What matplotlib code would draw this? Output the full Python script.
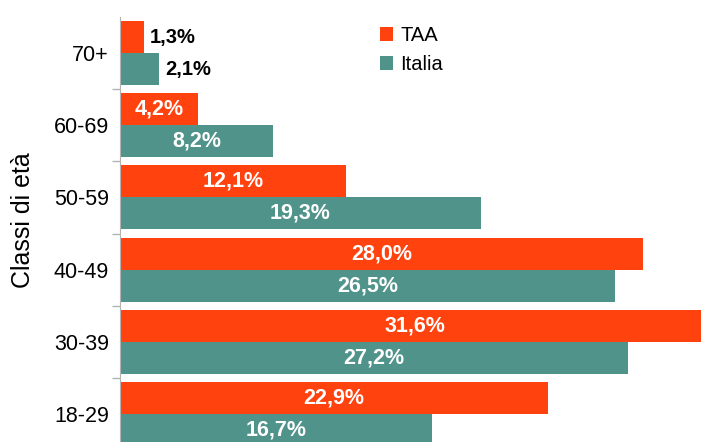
import numpy as np
import matplotlib
matplotlib.use('Agg')
import matplotlib.pyplot as plt

plt.rcParams['font.family'] = ['Liberation Sans', 'DejaVu Sans']

# dati
classi = ['18-29', '30-39', '40-49', '50-59', '60-69', '70+']
taa = [22.9, 31.6, 28.0, 12.1, 4.2, 1.3]
italia = [16.7, 27.2, 26.5, 19.3, 8.2, 2.1]

col_taa = '#FF420E'
col_ita = '#50938A'

fig = plt.figure(figsize=(7.01, 4.42), dpi=100)
ax = fig.add_axes([120 / 701, -8 / 442, 581 / 701, 433 / 442])

y = np.arange(len(classi))
h = 0.444
b1 = ax.barh(y + h / 2, taa, height=h, color=col_taa, label='TAA')
b2 = ax.barh(y - h / 2, italia, height=h, color=col_ita, label='Italia')

ax.set_xlim(0, 581 / 18.68)
ax.set_ylim(-0.5, len(classi) - 0.5)

# etichette dei valori
for barre, valori in [(b1, taa), (b2, italia)]:
    for b, v in zip(barre, valori):
        testo = f'{v:.1f}%'.replace('.', ',')
        yc = b.get_y() + b.get_height() / 2
        if v < 3:
            ax.text(v + 0.3, yc, testo, ha='left', va='center',
                    fontsize=14.5, fontweight='bold', color='black')
        else:
            ax.text(v / 2, yc, testo, ha='center', va='center',
                    fontsize=15.5, fontweight='bold', color='white')

ax.set_yticks(y)
ax.set_yticklabels(classi, fontsize=15.5)
ax.set_yticks(np.arange(len(classi)) - 0.5, minor=True)
ax.tick_params(axis='y', which='major', length=0, pad=8)
ax.tick_params(axis='y', which='minor', length=6, color='#b3b3b3', width=1)
ax.set_xticks([])

for s in ['top', 'right', 'bottom']:
    ax.spines[s].set_visible(False)
ax.spines['left'].set_color('#b3b3b3')

fig.text(23 / 701, 1 - 220 / 442, 'Classi di età', rotation=90,
         ha='center', va='center', fontsize=18)

fig.legend(handles=[b1, b2], loc='upper left', bbox_to_anchor=(372 / 701, 1 - 18 / 442),
           frameon=False, fontsize=14.5, handlelength=0.65, handleheight=0.65,
           handletextpad=0.35, labelspacing=0.5, borderaxespad=0)

fig.savefig('out.png', dpi=100)
